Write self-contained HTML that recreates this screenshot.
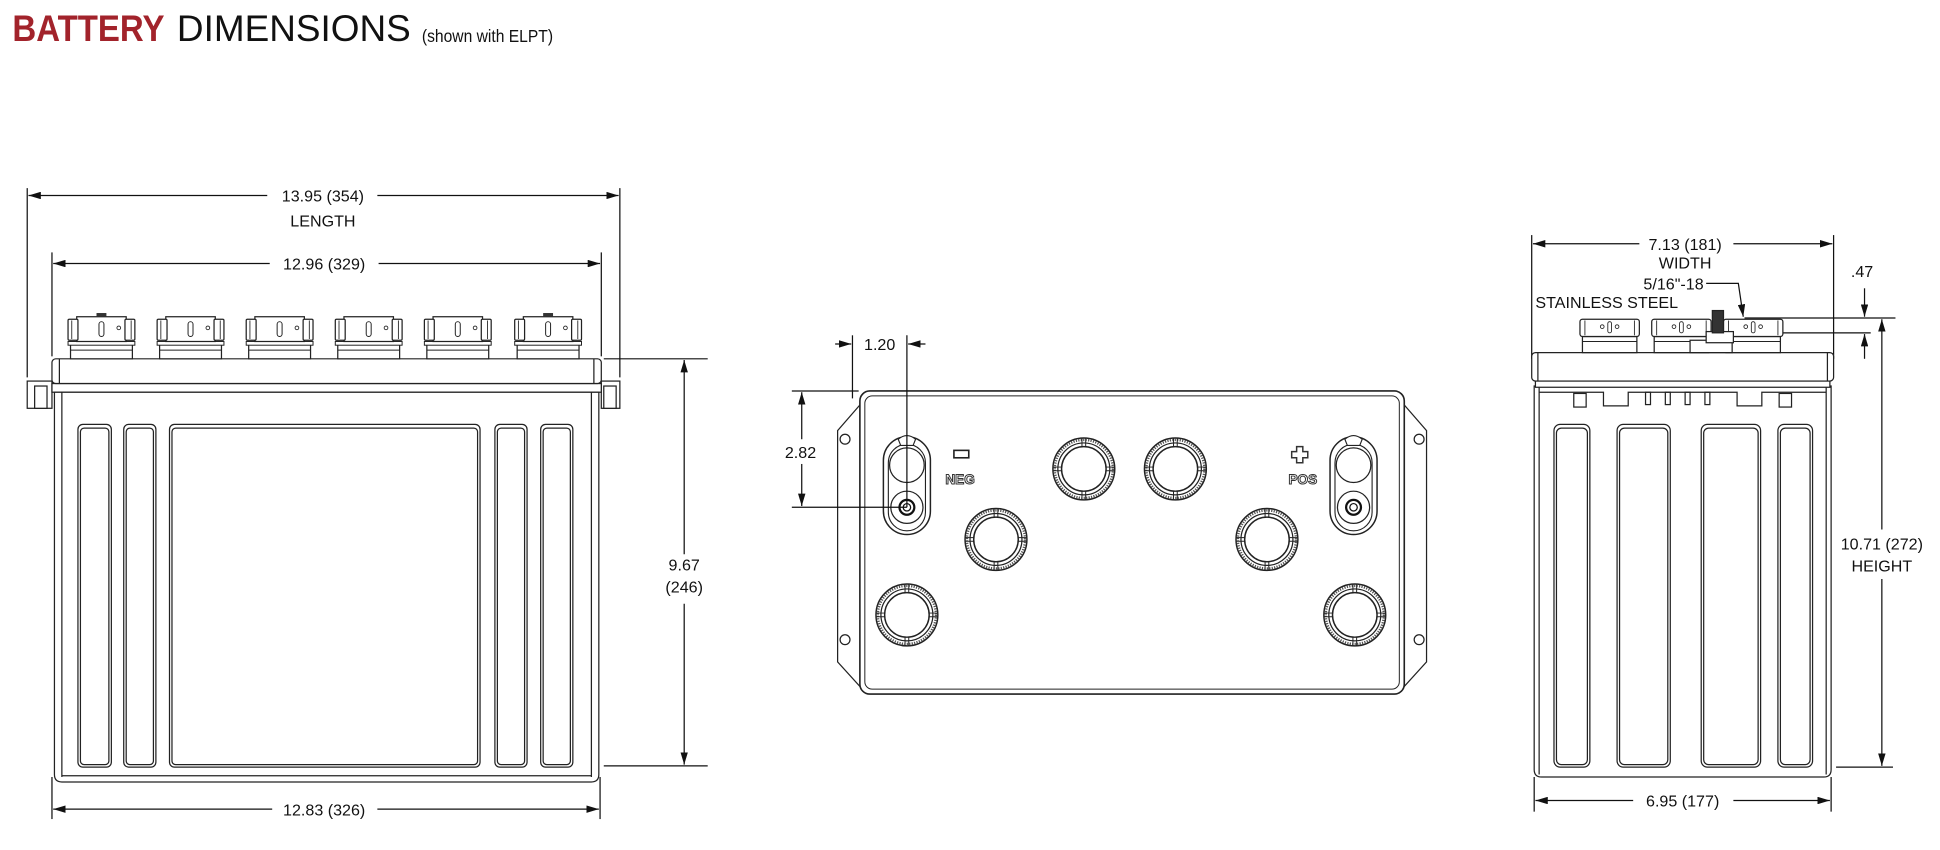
<!DOCTYPE html>
<html><head><meta charset="utf-8"><style>
html,body{margin:0;padding:0;background:#fff;}
svg{display:block;}
text{font-family:"Liberation Sans",Arial,sans-serif;fill:#111;}
</style></head><body>
<svg width="1940" height="850" viewBox="0 0 1568 687" preserveAspectRatio="none" xmlns="http://www.w3.org/2000/svg">
<defs>
<marker id="a" viewBox="0 0 10 6" refX="10" refY="3" markerWidth="10" markerHeight="6" markerUnits="userSpaceOnUse" orient="auto-start-reverse"><path d="M0,0 L10,3 L0,6 z" fill="#111"/></marker>
<g id="capL">
  <rect x="-25" y="278" width="50" height="12" fill="#fff" stroke="#222" stroke-width="1"/>
  <line x1="-25" y1="283" x2="25" y2="283" stroke="#222" stroke-width="0.8"/>
  <rect x="-27" y="276" width="54" height="3" fill="#fff" stroke="#222" stroke-width="0.8"/>
  <rect x="-20" y="256" width="40" height="20" fill="#fff" stroke="#222" stroke-width="1"/>
  <rect x="-27" y="258" width="8" height="17" rx="1" fill="#fff" stroke="#222" stroke-width="1"/>
  <rect x="19" y="258" width="8" height="17" rx="1" fill="#fff" stroke="#222" stroke-width="1"/>
  <line x1="-24" y1="259" x2="-24" y2="274" stroke="#222" stroke-width="0.7"/>
  <line x1="24" y1="259" x2="24" y2="274" stroke="#222" stroke-width="0.7"/>
  <rect x="-2" y="260" width="4" height="12" rx="2" fill="#fff" stroke="#222" stroke-width="0.8"/>
  <circle cx="14" cy="265" r="1.5" fill="none" stroke="#222" stroke-width="0.7"/>
</g>
<g id="ring">
  <circle r="25" fill="#fff" stroke="#222" stroke-width="1.2"/>
  <circle r="23.5" fill="none" stroke="#555" stroke-width="2" stroke-dasharray="1 1"/>
  <circle r="21" fill="none" stroke="#222" stroke-width="1"/>
  <circle r="18" fill="#fff" stroke="#222" stroke-width="1.2"/>
  <path d="M-1.5,-25 v7 M1.5,-25 v7 M-1.5,18 v7 M1.5,18 v7 M-25,-1.5 h7 M-25,1.5 h7 M18,-1.5 h7 M18,1.5 h7" stroke="#222" stroke-width="0.8"/>
</g>
<g id="term">
  <rect x="-19" y="-40" width="38" height="79" rx="19" fill="#fff" stroke="#222" stroke-width="1.2"/>
  <rect x="-15" y="-34" width="30" height="70" rx="15" fill="none" stroke="#222" stroke-width="0.9"/>
  <path d="M-7,-38 Q0,-44 7,-38 L5,-33 L-5,-33 z" fill="#fff" stroke="#222" stroke-width="0.9"/>
  <circle cx="0" cy="-17" r="14" fill="#fff" stroke="#222" stroke-width="1"/>
  <circle cx="0" cy="17" r="13" fill="#fff" stroke="#222" stroke-width="1"/>
  <circle cx="0" cy="17" r="6" fill="#fff" stroke="#111" stroke-width="1.8"/>
  <circle cx="0" cy="17" r="3" fill="none" stroke="#111" stroke-width="1"/>
</g>
<g id="capR">
  <rect x="-22" y="272" width="44" height="13" fill="#fff" stroke="#222" stroke-width="1"/>
  <line x1="-22" y1="276" x2="22" y2="276" stroke="#222" stroke-width="0.8"/>
  <rect x="-24" y="258" width="48" height="14" rx="2" fill="#fff" stroke="#222" stroke-width="1"/>
  <line x1="-20" y1="259" x2="-20" y2="271" stroke="#222" stroke-width="0.7"/>
  <line x1="20" y1="259" x2="20" y2="271" stroke="#222" stroke-width="0.7"/>
  <rect x="-1.5" y="260" width="3" height="9" rx="1.5" fill="none" stroke="#222" stroke-width="0.7"/>
  <circle cx="-6" cy="264" r="1.5" fill="none" stroke="#222" stroke-width="0.7"/>
  <circle cx="6" cy="264" r="1.5" fill="none" stroke="#222" stroke-width="0.7"/>
</g>
</defs>

<!-- Title -->
<text x="10" y="33" font-size="30" font-weight="bold" style="fill:#a2232b" textLength="123" lengthAdjust="spacingAndGlyphs">BATTERY</text>
<text x="143" y="33" font-size="30" textLength="189" lengthAdjust="spacingAndGlyphs">DIMENSIONS</text>
<text x="341" y="34" font-size="14" textLength="106" lengthAdjust="spacingAndGlyphs">(shown with ELPT)</text>

<g stroke="#111" stroke-width="1" fill="none">
<!-- LEFT VIEW dims -->
<line x1="22" y1="152" x2="22" y2="305"/><line x1="501" y1="152" x2="501" y2="305"/>
<line x1="23" y1="158" x2="216" y2="158" marker-start="url(#a)"/><line x1="305" y1="158" x2="500" y2="158" marker-end="url(#a)"/>
<line x1="42" y1="204" x2="42" y2="288"/><line x1="486" y1="204" x2="486" y2="288"/>
<line x1="43" y1="213" x2="218" y2="213" marker-start="url(#a)"/><line x1="306" y1="213" x2="485" y2="213" marker-end="url(#a)"/>
<line x1="488" y1="290" x2="572" y2="290"/><line x1="488" y1="619" x2="572" y2="619"/>
<line x1="553" y1="291" x2="553" y2="448" marker-start="url(#a)"/><line x1="553" y1="488" x2="553" y2="618" marker-end="url(#a)"/>
<line x1="42" y1="628" x2="42" y2="662"/><line x1="485" y1="628" x2="485" y2="662"/>
<line x1="43" y1="654" x2="220" y2="654" marker-start="url(#a)"/><line x1="305" y1="654" x2="484" y2="654" marker-end="url(#a)"/>
</g>
<text x="261" y="163" font-size="13" text-anchor="middle">13.95 (354)</text>
<text x="261" y="183" font-size="13" text-anchor="middle">LENGTH</text>
<text x="262" y="218" font-size="13" text-anchor="middle">12.96 (329)</text>
<text x="553" y="461" font-size="13" text-anchor="middle">9.67</text>
<text x="553" y="479" font-size="13" text-anchor="middle">(246)</text>
<text x="262" y="659" font-size="13" text-anchor="middle">12.83 (326)</text>

<!-- LEFT battery -->
<g stroke="#222" stroke-width="1" fill="#fff">
<rect x="22" y="308" width="20" height="22" /><rect x="28" y="312" width="10" height="18"/>
<rect x="486" y="308" width="15" height="22"/><rect x="488" y="312" width="10" height="18"/>
<rect x="42" y="310" width="444" height="7"/>
<path d="M44,317 H484 V626 Q484,632 478,632 H50 Q44,632 44,626 Z"/>
<line x1="50" y1="317" x2="50" y2="628"/><line x1="478" y1="317" x2="478" y2="628"/>
<line x1="50" y1="627" x2="478" y2="627"/>
<rect x="42" y="290" width="444" height="20" rx="3"/>
<line x1="48" y1="290" x2="48" y2="310"/><line x1="480" y1="290" x2="480" y2="310"/>
<rect x="63" y="343" width="27" height="277" rx="4"/><rect x="65" y="346" width="23" height="272" rx="3"/>
<rect x="100" y="343" width="26" height="277" rx="4"/><rect x="102" y="346" width="22" height="272" rx="3"/>
<rect x="137" y="343" width="251" height="277" rx="4"/><rect x="139" y="346" width="247" height="272" rx="3"/>
<rect x="400" y="343" width="26" height="277" rx="4"/><rect x="402" y="346" width="22" height="272" rx="3"/>
<rect x="437" y="343" width="26" height="277" rx="4"/><rect x="439" y="346" width="22" height="272" rx="3"/>
</g>
<use href="#capL" x="82"/><use href="#capL" x="154"/><use href="#capL" x="226"/><use href="#capL" x="298"/><use href="#capL" x="370"/><use href="#capL" x="443"/>
<rect x="78" y="253" width="8" height="3" fill="#333"/><rect x="439" y="253" width="8" height="3" fill="#333"/>

<!-- CENTER VIEW -->
<g stroke="#222" stroke-width="1" fill="#fff">
<path d="M697,325 L677,348 V535 L697,557 Z"/>
<path d="M1133,325 L1153,348 V535 L1133,557 Z"/>
<circle cx="683" cy="355" r="4"/><circle cx="683" cy="517" r="4"/>
<circle cx="1147" cy="355" r="4"/><circle cx="1147" cy="517" r="4"/>
<rect x="695" y="316" width="440" height="245" rx="8" stroke-width="1.3"/>
<rect x="699" y="320" width="432" height="237" rx="6" stroke-width="0.8"/>
</g>
<use href="#term" x="733" y="393"/><use href="#term" x="1094" y="393"/>
<use href="#ring" x="876" y="379"/><use href="#ring" x="950" y="379"/>
<use href="#ring" x="805" y="436"/><use href="#ring" x="1024" y="436"/>
<use href="#ring" x="733" y="497"/><use href="#ring" x="1095" y="497"/>
<rect x="771" y="364" width="12" height="6" fill="#fff" stroke="#222" stroke-width="1.3"/>
<text x="776" y="391" font-size="11" font-weight="bold" text-anchor="middle" style="fill:#fff;stroke:#333;stroke-width:0.8">NEG</text>
<path d="M1048,361 h5 v4 h4 v5 h-4 v4 h-5 v-4 h-4 v-5 h4 z" fill="#fff" stroke="#333" stroke-width="1.2"/>
<text x="1053" y="391" font-size="11" font-weight="bold" text-anchor="middle" style="fill:#fff;stroke:#333;stroke-width:0.8">POS</text>
<g stroke="#111" stroke-width="1" fill="none">
<line x1="689" y1="271" x2="689" y2="322"/><line x1="733" y1="271" x2="733" y2="410"/>
<line x1="675" y1="278" x2="688" y2="278" marker-end="url(#a)"/><line x1="748" y1="278" x2="734" y2="278" marker-end="url(#a)"/>
<line x1="640" y1="316" x2="694" y2="316"/><line x1="640" y1="410" x2="733" y2="410"/>
<line x1="648" y1="317" x2="648" y2="355" marker-start="url(#a)"/><line x1="648" y1="375" x2="648" y2="409" marker-end="url(#a)"/>
</g>
<text x="711" y="283" font-size="13" text-anchor="middle">1.20</text>
<text x="647" y="370" font-size="13" text-anchor="middle">2.82</text>

<!-- RIGHT VIEW dims -->
<g stroke="#111" stroke-width="1" fill="none">
<line x1="1238" y1="190" x2="1238" y2="290"/><line x1="1482" y1="190" x2="1482" y2="290"/>
<line x1="1239" y1="197" x2="1325" y2="197" marker-start="url(#a)"/><line x1="1401" y1="197" x2="1481" y2="197" marker-end="url(#a)"/>
<polyline points="1379,229 1405,229 1409,256" marker-end="url(#a)"/>
<line x1="1410" y1="257" x2="1532" y2="257"/><line x1="1410" y1="269" x2="1512" y2="269"/>
<line x1="1507" y1="233" x2="1507" y2="256" marker-end="url(#a)"/><line x1="1507" y1="290" x2="1507" y2="270" marker-end="url(#a)"/>
<line x1="1521" y1="258" x2="1521" y2="428" marker-start="url(#a)"/><line x1="1521" y1="468" x2="1521" y2="619" marker-end="url(#a)"/>
<line x1="1484" y1="620" x2="1530" y2="620"/>
<line x1="1240" y1="628" x2="1240" y2="656"/><line x1="1480" y1="628" x2="1480" y2="656"/>
<line x1="1241" y1="647" x2="1320" y2="647" marker-start="url(#a)"/><line x1="1401" y1="647" x2="1479" y2="647" marker-end="url(#a)"/>
</g>
<text x="1362" y="202" font-size="13" text-anchor="middle">7.13 (181)</text>
<text x="1362" y="217" font-size="13" text-anchor="middle">WIDTH</text>
<text x="1377" y="234" font-size="13" text-anchor="end">5/16"-18</text>
<text x="1241" y="249" font-size="13">STAINLESS STEEL</text>
<text x="1505" y="224" font-size="13" text-anchor="middle">.47</text>
<text x="1521" y="444" font-size="13" text-anchor="middle">10.71 (272)</text>
<text x="1521" y="462" font-size="13" text-anchor="middle">HEIGHT</text>
<text x="1360" y="652" font-size="13" text-anchor="middle">6.95 (177)</text>

<!-- RIGHT battery -->
<g stroke="#222" stroke-width="1" fill="#fff">
<path d="M1240,312 H1480 V622 Q1480,628 1474,628 H1246 Q1240,628 1240,622 Z"/>
<line x1="1244" y1="312" x2="1244" y2="626"/><line x1="1476" y1="312" x2="1476" y2="626"/>
<rect x="1238" y="285" width="244" height="23" rx="3"/>
<line x1="1243" y1="285" x2="1243" y2="308"/><line x1="1477" y1="285" x2="1477" y2="308"/>
<rect x="1241" y="308" width="238" height="5"/>
<path d="M1244,317 H1296 V328 H1316 V317 H1404 V328 H1424 V317 H1476" fill="none"/>
<rect x="1272" y="318" width="10" height="11" fill="none"/><rect x="1438" y="318" width="10" height="11" fill="none"/>
<rect x="1330" y="317" width="4" height="10" fill="none"/><rect x="1346" y="317" width="4" height="10" fill="none"/>
<rect x="1362" y="317" width="4" height="10" fill="none"/><rect x="1378" y="317" width="4" height="10" fill="none"/>
<rect x="1256" y="343" width="29" height="277" rx="5"/><rect x="1258" y="346" width="25" height="272" rx="4"/>
<rect x="1307" y="343" width="43" height="277" rx="5"/><rect x="1309" y="346" width="39" height="272" rx="4"/>
<rect x="1375" y="343" width="48" height="277" rx="5"/><rect x="1377" y="346" width="44" height="272" rx="4"/>
<rect x="1437" y="343" width="28" height="277" rx="5"/><rect x="1439" y="346" width="24" height="272" rx="4"/>
</g>
<use href="#capR" x="1301"/><use href="#capR" x="1359"/><use href="#capR" x="1417"/>
<g stroke="#222" stroke-width="1" fill="#fff">
<rect x="1366" y="275" width="34" height="10"/>
<rect x="1379" y="268" width="22" height="9"/>
<rect x="1384" y="251" width="9" height="18" fill="#333"/>
</g>
</svg>
</body></html>
